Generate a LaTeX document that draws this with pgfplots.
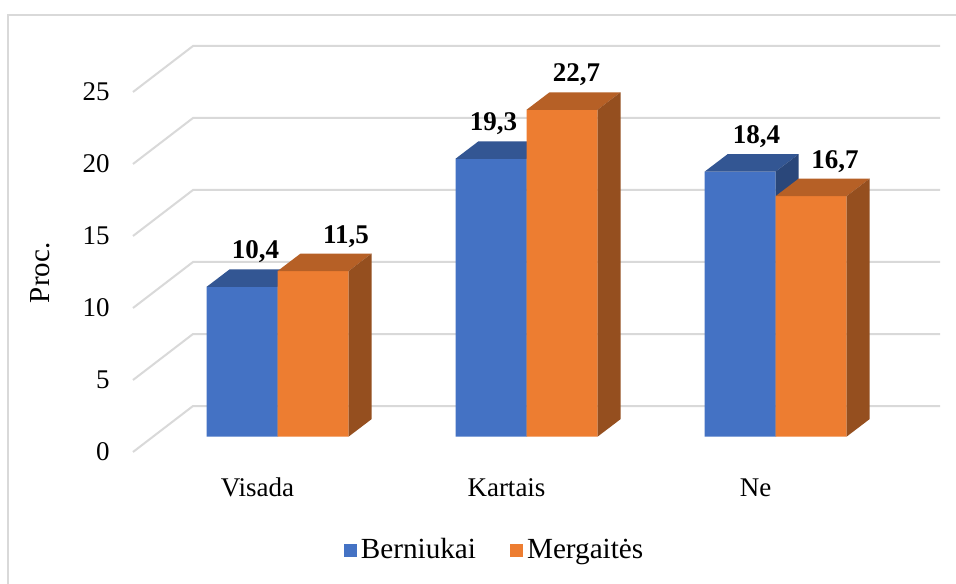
\documentclass[border=0pt]{standalone}
\usepackage{pgfplots}
\pgfplotsset{compat=1.18}
\usepackage{pgfplotstable}
\usepackage{fontspec}
\setmainfont{Liberation Serif}
\definecolor{cB}{HTML}{4472C4}
\definecolor{cO}{HTML}{ED7D31}
\colorlet{cBT}{cB!75!black}
\colorlet{cBS}{cB!62!black}
\colorlet{cOT}{cO!77!black}
\colorlet{cOS}{cO!63!black}
\definecolor{gridc}{HTML}{D9D9D9}
\newdimen\barH

% top and side faces of a 3D bar, drawn at the data point (front-top centre of the category)
\pgfdeclareplotmark{boxB}{%
  \global\barH=\barv\dimexpr7.2pt\relax
  \pgfsetfillcolor{cBT}%
  \pgfpathmoveto{\pgfqpoint{-35.5pt}{0pt}}%
  \pgfpathlineto{\pgfqpoint{0pt}{0pt}}%
  \pgfpathlineto{\pgfqpoint{11.5pt}{8.75pt}}%
  \pgfpathlineto{\pgfqpoint{-24pt}{8.75pt}}%
  \pgfpathclose\pgfusepath{fill}%
  \pgfsetfillcolor{cBS}%
  \pgfpathmoveto{\pgfqpoint{0pt}{0pt}}%
  \pgfpathlineto{\pgfqpoint{11.5pt}{8.75pt}}%
  \pgfpathlineto{\pgfqpoint{11.5pt}{\dimexpr8.75pt-\barH\relax}}%
  \pgfpathlineto{\pgfqpoint{0pt}{-\barH}}%
  \pgfpathclose\pgfusepath{fill}%
}
\pgfdeclareplotmark{boxO}{%
  \global\barH=\barv\dimexpr7.2pt\relax
  \pgfsetfillcolor{cOT}%
  \pgfpathmoveto{\pgfqpoint{0pt}{0pt}}%
  \pgfpathlineto{\pgfqpoint{35.5pt}{0pt}}%
  \pgfpathlineto{\pgfqpoint{47pt}{8.75pt}}%
  \pgfpathlineto{\pgfqpoint{11.5pt}{8.75pt}}%
  \pgfpathclose\pgfusepath{fill}%
  \pgfsetfillcolor{cOS}%
  \pgfpathmoveto{\pgfqpoint{35.5pt}{0pt}}%
  \pgfpathlineto{\pgfqpoint{47pt}{8.75pt}}%
  \pgfpathlineto{\pgfqpoint{47pt}{\dimexpr8.75pt-\barH\relax}}%
  \pgfpathlineto{\pgfqpoint{35.5pt}{-\barH}}%
  \pgfpathclose\pgfusepath{fill}%
}

\pgfplotsset{
  facelabels/.style={
    only marks, forget plot,
    visualization depends on={\thisrow{v}\as\barv},
    visualization depends on={\thisrow{lx}\as\labx},
    point meta=explicit symbolic,
    nodes near coords,
    every node near coord/.append style={anchor=base, xshift=\labx pt, yshift=14pt,
      font=\bfseries\fontsize{13.5}{16}\selectfont, text=black, inner sep=0pt},
  },
  barplane/.style={
    at={(76.5pt,73.15pt)}, anchor=south west,
    x=124.5pt, y=7.2pt,
    xmin=-0.5, xmax=2.741, ymin=0, ymax=28.2,
    enlargelimits=false, clip=false, hide axis,
  },
}

\pgfplotstableread{
x v lx lab
0 10.4 -11 10,4
1 19.3 -16.5 19,3
2 18.4 -9.5 18,4
}\tblB
\pgfplotstableread{
x v lx lab
0 11.5 34.25 11,5
1 22.7 25 22,7
2 16.7 29.75 16,7
}\tblO

\begin{document}
\begin{tikzpicture}
\useasboundingbox (0,0) rectangle (478pt,291.5pt);
\fill[white] (0,0) rectangle (478pt,291.5pt);
\draw[gridc, line width=1pt] (4pt,-10pt) |- (490pt,284pt);

% front plane: grid and ticks
\begin{axis}[
  at={(66.5pt,65.5pt)}, anchor=south west,
  x=124.5pt, y=7.2pt,
  xmin=-0.5, xmax=2.741, ymin=0, ymax=28.2,
  enlargelimits=false, clip=false,
  axis line style={draw=none}, major tick length=0pt,
  xtick={0,1,2}, xticklabels={Visada,Kartais,Ne},
  ytick={0,5,10,15,20,25},
  tick label style={font=\fontsize{13.5}{16}\selectfont},
  /pgf/number format/assume math mode=true,
  xticklabel style={anchor=base, inner sep=0pt, yshift=-22pt},
  yticklabel style={anchor=east, inner sep=0pt, xshift=-11.5pt},
  ylabel={Proc.},
  ylabel style={at={(axis description cs:-0.1152,0.441)}, anchor=center, font=\fontsize{14.5}{17}\selectfont},
]
\draw[gridc, line width=1pt] (axis cs:-0.5,0)  -- (axis cs:-0.25904,3.1944)  -- (axis cs:2.741,3.1944);
\draw[gridc, line width=1pt] (axis cs:-0.5,5)  -- (axis cs:-0.25904,8.1944)  -- (axis cs:2.741,8.1944);
\draw[gridc, line width=1pt] (axis cs:-0.5,10) -- (axis cs:-0.25904,13.1944) -- (axis cs:2.741,13.1944);
\draw[gridc, line width=1pt] (axis cs:-0.5,15) -- (axis cs:-0.25904,18.1944) -- (axis cs:2.741,18.1944);
\draw[gridc, line width=1pt] (axis cs:-0.5,20) -- (axis cs:-0.25904,23.1944) -- (axis cs:2.741,23.1944);
\draw[gridc, line width=1pt] (axis cs:-0.5,25) -- (axis cs:-0.25904,28.1944) -- (axis cs:2.741,28.1944);
\end{axis}

% bar plane: Berniukai
\begin{axis}[barplane]
\addplot[ybar, bar width=35.5pt, bar shift=-17.75pt, fill=cB, draw=none, forget plot] table[x=x,y=v]{\tblB};
\addplot[facelabels, mark=boxB] table[x=x,y=v,meta=lab]{\tblB};
\end{axis}

% bar plane: Mergaites (drawn over the blue bars)
\begin{axis}[barplane,
  legend columns=2, legend cell align=left,
  legend style={at={(axis description cs:0.4245,-0.279)}, anchor=center, draw=none, fill=none,
    font=\fontsize{14.6}{17}\selectfont,
    /tikz/every even column/.append style={column sep=15pt}},
]
\addplot[ybar, bar width=35.5pt, bar shift=17.75pt, fill=cO, draw=none, forget plot] table[x=x,y=v]{\tblO};
\addplot[facelabels, mark=boxO] table[x=x,y=v,meta=lab]{\tblO};
\addlegendimage{fill=cB, draw=none, legend image code/.code={\fill[cB] (0pt,-3.25pt) rectangle (6.5pt,3.25pt);}}
\addlegendentry{Berniukai}
\addlegendimage{fill=cO, draw=none, legend image code/.code={\fill[cO] (0pt,-3.25pt) rectangle (6.5pt,3.25pt);}}
\addlegendentry{Mergaitės}
\end{axis}
\end{tikzpicture}
\end{document}
